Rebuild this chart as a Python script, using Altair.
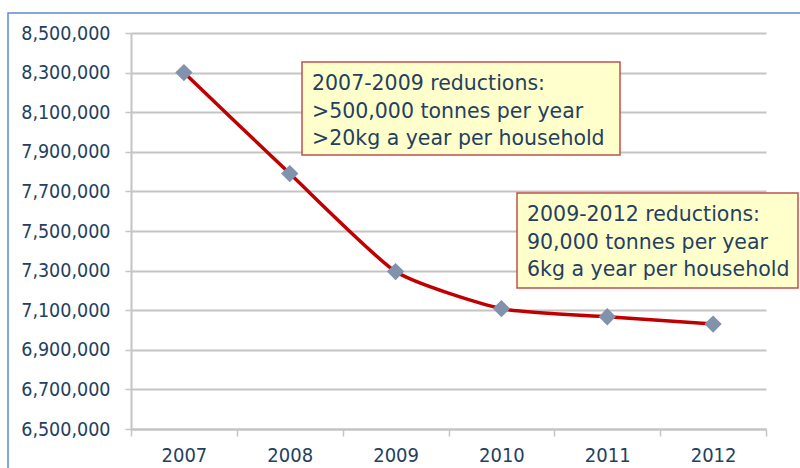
import altair as alt
import pandas as pd

# Household waste per year (tonnes)
years = ["2007", "2008", "2009", "2010", "2011", "2012"]
tonnes = [8300000, 7790000, 7295000, 7108000, 7067000, 7030000]

y_ticks = [6500000 + 200000 * i for i in range(11)]

note_a = ["2007-2009 reductions:", ">500,000 tonnes per year", ">20kg a year per household"]
note_b = ["2009-2012 reductions:", "90,000 tonnes per year", "6kg a year per household"]

FONT = "DejaVu Sans"
AXIS_FONT = "DejaVu Sans Condensed, DejaVu Sans"
TEXT = "#243F60"
GRID = "#C4C4C4"

df = pd.DataFrame({"year": years, "tonnes": tonnes})
one = pd.DataFrame({"k": [0]})

x_enc = alt.X(
    "year:O",
    scale=alt.Scale(type="band", paddingInner=0, paddingOuter=0),
    bandPosition=0.5,
    axis=alt.Axis(
        title=None, labelAngle=0, tickBand="extent", tickSize=7, tickColor=GRID,
        tickWidth=1.5, domainColor=GRID, domainWidth=2, labelPadding=9,
        labelFont=AXIS_FONT, labelFontSize=20, labelColor=TEXT, grid=False,
    ),
)
y_enc = alt.Y(
    "tonnes:Q",
    scale=alt.Scale(domain=[6500000, 8500000], nice=False, zero=False),
    axis=alt.Axis(
        title=None, values=y_ticks, format=",d", tickSize=6, tickColor=GRID,
        tickWidth=1.5, domainColor=GRID, domainWidth=2, gridColor=GRID,
        gridWidth=2, labelPadding=15, labelFont=AXIS_FONT, labelFontSize=19.5,
        labelColor=TEXT,
    ),
)

base = alt.Chart(df).encode(x=x_enc, y=y_enc)

line = base.mark_line(color="#C00000", strokeWidth=3.5, interpolate="cardinal", tension=0.45)
points = base.mark_point(shape="diamond", filled=True, size=300, color="#8192AD", opacity=1)

# frame around the whole chart
frame = alt.Chart(one).mark_rect(
    fill=None, stroke="#5B8BD0", strokeWidth=1.5, clip=False
).encode(x=alt.value(-123), x2=alt.value(900), y=alt.value(-20), y2=alt.value(600))


def note(lines, x0, x1, y0, y1, tx, base_y):
    box = alt.Chart(one).mark_rect(
        fill="#FFFFCC", stroke="#C0504D", strokeWidth=1.5, clip=False
    ).encode(x=alt.value(x0), x2=alt.value(x1), y=alt.value(y0), y2=alt.value(y1))
    tdf = pd.DataFrame({"t": ["\n".join(lines)]})
    txt = alt.Chart(tdf).mark_text(
        align="left", baseline="alphabetic", font=FONT, fontSize=20.5,
        color=TEXT, clip=False, lineBreak="\n", lineHeight=27.5
    ).encode(x=alt.value(tx), y=alt.value(base_y), text="t:N")
    return [box, txt]


layers = [line, points, frame] + note(note_a, 171, 489, 29, 122, 181, 57) \
    + note(note_b, 386, 667, 160, 255, 396, 188)

chart = alt.layer(*layers).properties(
    width=635,
    height=396,
    autosize=alt.AutoSizeParams(type="none"),
    padding={"left": 131, "top": 33, "right": 34, "bottom": 39},
    background="white",
).configure_view(stroke=None)

chart.save("out.html", embed_options={"renderer": "svg", "actions": False})
